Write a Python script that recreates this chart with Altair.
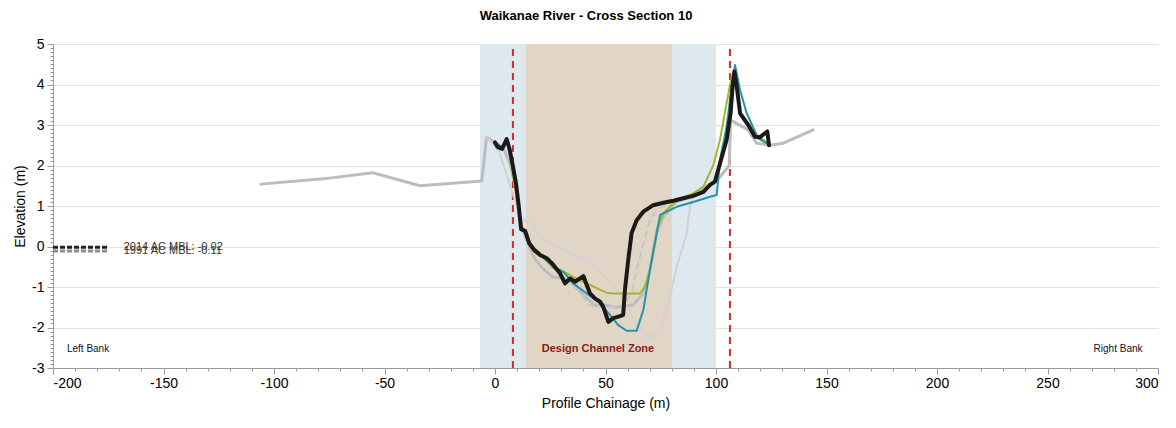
import altair as alt
import pandas as pd

# ---------------- data ----------------
# medium grey long profile (older survey)
s1_x = [-106, -77.7, -55.3, -33.9, -6.0, -3.8, 0.5, 4, 7, 9.5, 11.5, 14, 18, 21.6, 26, 32, 36, 40, 45, 50, 55, 62.6, 67.1, 70.1, 73.2, 76.2, 82, 90, 100, 106, 106.6, 114.6, 118.4, 124.4, 130.5, 144]
s1_y = [1.54, 1.67, 1.82, 1.50, 1.62, 2.70, 2.55, 2.40, 2.0, 1.4, 0.6, 0.2, -0.3, -0.54, -0.75, -0.80, -0.95, -1.2, -1.45, -1.45, -1.5, -1.44, -1.16, -0.58, 0.33, 0.74, 1.1, 1.25, 1.6, 2.0, 3.12, 2.88, 2.55, 2.5, 2.55, 2.88]

# light grey profile
s2_x = [-3.8, 1.9, 7.2, 11, 12.5, 15.5, 21.6, 27.6, 33.6, 38, 43, 47.5, 55, 59.6, 64.1, 68.6, 70.1, 74.7, 79.2, 82.2, 86.7, 88.2, 90, 95, 100]
s2_y = [2.70, 2.34, 1.44, 0.78, 0.65, 0.61, 0.2, 0.0, -0.17, -0.25, -0.33, -0.62, -1.07, -1.49, -1.9, -2.23, -2.27, -2.06, -1.24, -0.5, 0.3, 0.98, 1.3, 1.5, 1.6]

# dashed grey profile
s3_x = [36, 40, 42, 50, 58, 62, 64.1, 67.1, 70.1, 73.2, 78]
s3_y = [-1.0, -1.24, -1.44, -1.5, -1.5, -1.1, -0.58, 0.08, 0.65, 0.9, 1.05]

# olive profile
ol_x = [0, 3.2, 5.3, 6.5, 8, 10.3, 12.5, 15.5, 20.4, 26.3, 32.4, 35.4, 40, 46, 50.5, 53.5, 65.6, 67.9, 70.1, 73.2, 76.2, 82.2, 89.7, 94.3, 98.8, 101.8, 104.8, 107.1, 109.4, 110.9, 112.4, 114.6, 117.6, 119.9, 123.7]
ol_y = [2.57, 2.41, 2.6, 2.42, 1.85, 1.02, 0.45, 0.08, -0.17, -0.53, -0.66, -0.75, -0.87, -1.03, -1.14, -1.16, -1.16, -0.99, -0.58, 0.41, 0.82, 1.15, 1.31, 1.48, 2.01, 2.63, 3.54, 4.19, 3.95, 3.29, 3.17, 3.0, 2.71, 2.7, 2.55]

# teal profile
te_x = [0, 3.2, 5.3, 6.5, 8, 9.5, 10.7, 11.8, 13.7, 15.5, 20.4, 26.4, 30.9, 35.4, 41.5, 47.5, 52, 55.8, 59.6, 64.1, 67.1, 70.1, 74.7, 82.2, 89.7, 97.3, 100.3, 101.8, 104.8, 107.1, 108.6, 110.9, 113.9, 119.1, 124.4]
te_y = [2.57, 2.45, 2.62, 2.42, 2.0, 1.56, 1.02, 0.43, 0.36, 0.05, -0.2, -0.5, -0.62, -0.91, -1.16, -1.40, -1.69, -1.94, -2.08, -2.08, -1.57, -0.58, 0.78, 0.98, 1.1, 1.23, 1.27, 2.14, 2.96, 3.95, 4.48, 3.86, 3.29, 2.67, 2.5]

# black profile (latest survey)
bk_x = [0, 1.2, 3.2, 5.3, 6.5, 8.0, 9.5, 10.7, 11.8, 13.7, 15.5, 17.8, 20.4, 23.4, 25.7, 29.4, 31.7, 33.9, 36.2, 40, 41.5, 43, 45.2, 47.5, 49, 51.3, 53.5, 56.6, 58, 58.8, 60.3, 61.8, 64.1, 67.1, 71.6, 76.2, 80.7, 85.2, 89.7, 94.3, 97.3, 99.5, 101.8, 104.8, 106.6, 107.5, 108.3, 109.4, 110.9, 112.4, 114.6, 117.6, 119.9, 123.2, 124]
bk_y = [2.57, 2.46, 2.41, 2.65, 2.42, 2.01, 1.56, 1.02, 0.43, 0.38, 0.08, -0.09, -0.21, -0.29, -0.41, -0.66, -0.91, -0.79, -0.87, -0.73, -0.95, -1.16, -1.28, -1.36, -1.49, -1.86, -1.77, -1.72, -1.69, -1.07, -0.33, 0.33, 0.65, 0.86, 1.02, 1.08, 1.13, 1.19, 1.25, 1.35, 1.52, 1.6, 2.05, 2.63, 3.29, 3.95, 4.32, 3.95, 3.29, 3.17, 3.0, 2.71, 2.7, 2.84, 2.5]

# zones and markers
zone_outer = [-6.8, 100]
zone_design = [14, 80]
bank_lines = [8.1, 106.3]
mbl_labels = ["2014 AC MBL: -0.02", "1991 AC MBL: -0.11"]
mbl_values = [-0.02, -0.11]
mbl_x = [-200, -175]
mbl_text_x = -168

x_major = list(range(-200, 301, 50))
x_minor = [v for v in range(-200, 301, 10) if v % 50 != 0]
y_major = list(range(-3, 6))
y_minor = [round(-3 + 0.1 * i, 1) for i in range(81) if i % 10 != 0]

FONT = "Liberation Sans"

xscale = alt.Scale(domain=[-200, 300], nice=False, zero=False)
yscale = alt.Scale(domain=[-3, 5], nice=False, zero=False)

x_axis = alt.Axis(
    values=x_major, title="Profile Chainage (m)", grid=False, tickSize=6,
    labelExpr="'' + datum.value",
    labelFontSize=14, titleFontSize=14, labelColor="#000", titleColor="#000",
    titleFontWeight="normal", domainColor="#9a9a9a", tickColor="#9a9a9a",
    titlePadding=6, labelPadding=2, orient="bottom", labelFont=FONT, titleFont=FONT,
)
y_axis = alt.Axis(
    values=y_major, title="Elevation (m)", grid=True, gridColor="#e2e2e2", tickSize=6,
    labelExpr="'' + datum.value",
    labelFontSize=14, titleFontSize=14, labelColor="#000", titleColor="#000",
    titleFontWeight="normal", domainColor="#9a9a9a", tickColor="#9a9a9a",
    titlePadding=4, labelPadding=3, orient="left", labelFont=FONT, titleFont=FONT,
)
x_minor_axis = alt.Axis(values=x_minor, labels=False, title=None, grid=False, domain=False,
                        tickSize=3, tickColor="#9a9a9a", orient="bottom")
y_minor_axis = alt.Axis(values=y_minor, labels=False, title=None, grid=False, domain=False,
                        tickSize=3, tickColor="#9a9a9a", orient="left")


def X(field, axis=None):
    return alt.X(field, scale=xscale, axis=axis)


def Y(field, axis=None):
    return alt.Y(field, scale=yscale, axis=axis)


# shaded zones (carry the main axes)
rect_outer = alt.Chart(pd.DataFrame({"a": [zone_outer[0]], "b": [zone_outer[1]], "lo": [-3], "hi": [5]})).mark_rect(
    color="#dde9ef").encode(x=X("a:Q", x_axis), x2="b:Q", y=Y("lo:Q", y_axis), y2="hi:Q")
# minor ticks carrier
rect_design = alt.Chart(pd.DataFrame({"a": [zone_design[0]], "b": [zone_design[1]], "lo": [-3], "hi": [5]})).mark_rect(
    color="#e1d5c5").encode(x=X("a:Q", x_minor_axis), x2="b:Q", y=Y("lo:Q", y_minor_axis), y2="hi:Q")

red_rules = alt.Chart(pd.DataFrame({"x": bank_lines, "lo": [-3, -3], "hi": [5, 5]})).mark_rule(
    color="#d42a2a", strokeWidth=2, strokeDash=[7, 5]).encode(x=X("x:Q"), y=Y("lo:Q"), y2="hi:Q")


def line(xs, ys, color, width, dash=None):
    kw = dict(color=color, strokeWidth=width, strokeJoin="round", strokeCap="round")
    if dash:
        kw["strokeDash"] = dash
    df = pd.DataFrame({"x": xs, "y": ys, "i": list(range(len(xs)))})
    return alt.Chart(df).mark_line(**kw).encode(x=X("x:Q"), y=Y("y:Q"), order="i:Q")


l1 = line(s1_x, s1_y, "#bdbdbd", 3)
l2 = line(s2_x, s2_y, "#d2d2d2", 2)
l3 = line(s3_x, s3_y, "#c6c6c6", 2, [6, 5])
l_ol = line(ol_x, ol_y, "#a6b62c", 2)
l_te = line(te_x, te_y, "#2495a8", 2)
l_bk = line(bk_x, bk_y, "#1c1a17", 4)

# MBL lines
mbl_gray = alt.Chart(pd.DataFrame({"x": [mbl_x[0]], "x2": [mbl_x[1]], "y": [mbl_values[1]]})).mark_rule(
    color="#8c8c8c", strokeWidth=3, strokeDash=[5, 2]).encode(x=X("x:Q"), x2="x2:Q", y=Y("y:Q"))
mbl_black = alt.Chart(pd.DataFrame({"x": [mbl_x[0]], "x2": [mbl_x[1]], "y": [mbl_values[0]]})).mark_rule(
    color="#222222", strokeWidth=3, strokeDash=[5, 2]).encode(x=X("x:Q"), x2="x2:Q", y=Y("y:Q"))
mbl_txt = alt.Chart(pd.DataFrame({"x": [mbl_text_x, mbl_text_x], "y": mbl_values, "t": mbl_labels})).mark_text(
    align="left", baseline="middle", fontSize=11, font=FONT, color="#333333").encode(
    x=X("x:Q"), y=Y("y:Q"), text="t:N")

left_txt = alt.Chart(pd.DataFrame({"x": [-193.7], "y": [-2.53], "t": ["Left Bank"]})).mark_text(
    align="left", baseline="middle", fontSize=10, font=FONT, color="#111").encode(
    x=X("x:Q"), y=Y("y:Q"), text="t:N")
right_txt = alt.Chart(pd.DataFrame({"x": [293], "y": [-2.53], "t": ["Right Bank"]})).mark_text(
    align="right", baseline="middle", fontSize=10, font=FONT, color="#111").encode(
    x=X("x:Q"), y=Y("y:Q"), text="t:N")
dcz_txt = alt.Chart(pd.DataFrame({"x": [46.6], "y": [-2.53], "t": ["Design Channel Zone"]})).mark_text(
    align="center", baseline="middle", fontSize=11, fontWeight="bold", font=FONT, color="#8a1c1c").encode(
    x=X("x:Q"), y=Y("y:Q"), text="t:N")

chart = alt.layer(
    rect_outer, rect_design, red_rules, l1, l2, l3, l_ol, l_te, l_bk,
    mbl_gray, mbl_black, mbl_txt, left_txt, right_txt, dcz_txt,
).resolve_axis(x="independent", y="independent").properties(
    width=1105, height=324,
    title=alt.TitleParams("Waikanae River - Cross Section 10", fontSize=13, font=FONT,
                          fontWeight="bold", color="#000", anchor="middle", frame="bounds", offset=14),
    autosize=alt.AutoSizeParams(type="none"),
    padding={"left": 45, "top": 36, "right": 10, "bottom": 50},
).configure(font=FONT).configure_view(stroke=None)

chart.save("out.html", embed_options={"renderer": "svg", "actions": False})
